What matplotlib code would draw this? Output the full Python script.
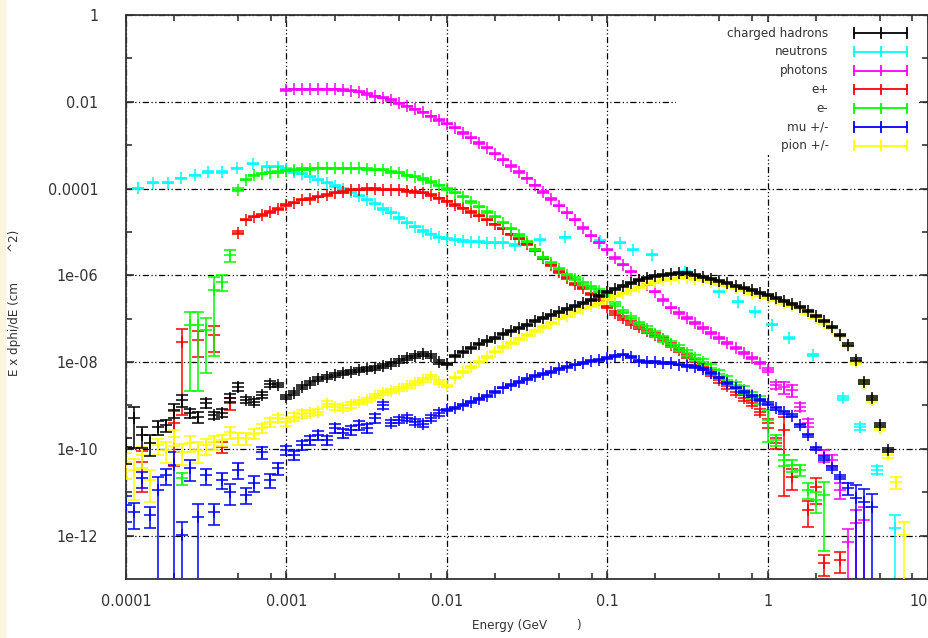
import numpy as np
import matplotlib
matplotlib.use('Agg')
import matplotlib.pyplot as plt
from matplotlib import font_manager
from matplotlib.patches import Rectangle
from matplotlib.ticker import FixedLocator, NullFormatter

nan = float('nan')

# log10(E / GeV) of the energy bins, 20 per decade
bin_loge = [
    -4.00, -3.95, -3.90, -3.85, -3.80, -3.75, -3.70, -3.65, -3.60, -3.55,
    -3.50, -3.45, -3.40, -3.35, -3.30, -3.25, -3.20, -3.15, -3.10, -3.05,
    -3.00, -2.95, -2.90, -2.85, -2.80, -2.75, -2.70, -2.65, -2.60, -2.55,
    -2.50, -2.45, -2.40, -2.35, -2.30, -2.25, -2.20, -2.15, -2.10, -2.05,
    -2.00, -1.95, -1.90, -1.85, -1.80, -1.75, -1.70, -1.65, -1.60, -1.55,
    -1.50, -1.45, -1.40, -1.35, -1.30, -1.25, -1.20, -1.15, -1.10, -1.05,
    -1.00, -0.95, -0.90, -0.85, -0.80, -0.75, -0.70, -0.65, -0.60, -0.55,
    -0.50, -0.45, -0.40, -0.35, -0.30, -0.25, -0.20, -0.15, -0.10, -0.05,
    0.00, 0.05, 0.10, 0.15, 0.20, 0.25, 0.30, 0.35, 0.40, 0.45,
    0.50, 0.55, 0.60, 0.65, 0.70, 0.75, 0.80, 0.85, 0.90, 0.95,
]

# charged hadrons, bins 0..95, log10(E dphi/dE) and relative error
hadron_logy = [
    -9.95, -9.29, -9.68, -9.86, -9.49, -9.45, -9.10, -8.87, -9.17, -9.26,
    -8.94, -9.22, -9.17, -8.82, -8.57, -8.87, -8.92, -8.76, -8.50, -8.53,
    -8.80, -8.71, -8.57, -8.48, -8.39, -8.34, -8.29, -8.25, -8.23, -8.18,
    -8.16, -8.13, -8.09, -8.04, -7.97, -7.90, -7.86, -7.81, -7.86, -8.00,
    -8.04, -7.86, -7.76, -7.67, -7.58, -7.51, -7.44, -7.35, -7.28, -7.21,
    -7.14, -7.05, -6.98, -6.91, -6.84, -6.77, -6.71, -6.64, -6.57, -6.47,
    -6.38, -6.31, -6.24, -6.18, -6.11, -6.06, -6.01, -5.99, -5.97, -5.94,
    -5.94, -5.99, -6.04, -6.08, -6.13, -6.18, -6.24, -6.29, -6.34, -6.40,
    -6.45, -6.52, -6.59, -6.66, -6.73, -6.82, -6.93, -7.05, -7.19, -7.37,
    -7.60, -7.95, -8.46, -8.82, -9.45, -10.02,
]
hadron_err = [
    0.6, 0.8, 0.5, 0.5, 0.35, 0.3, 0.35, 0.3, 0.25, 0.3,
    0.25, 0.2, 0.2, 0.2, 0.2, 0.15, 0.15, 0.15, 0.15, 0.12,
    0.1, 0.1, 0.1, 0.1, 0.1, 0.1, 0.1, 0.1, 0.1, 0.1,
    0.1, 0.1, 0.1, 0.1, 0.1, 0.1, 0.1, 0.1, 0.1, 0.1,
    0.05, 0.05, 0.05, 0.05, 0.05, 0.05, 0.05, 0.05, 0.05, 0.05,
    0.05, 0.05, 0.05, 0.05, 0.05, 0.05, 0.05, 0.05, 0.05, 0.05,
    0.05, 0.05, 0.05, 0.05, 0.05, 0.05, 0.05, 0.05, 0.05, 0.05,
    0.05, 0.05, 0.05, 0.05, 0.05, 0.05, 0.05, 0.05, 0.05, 0.05,
    0.05, 0.05, 0.05, 0.05, 0.05, 0.05, 0.05, 0.05, 0.05, 0.05,
    0.08, 0.08, 0.1, 0.1, 0.1, 0.12,
]

# neutrons: own energies (coarser bins at both ends)
neutron_loge = [
    -3.925, -3.83, -3.74, -3.66, -3.57, -3.49, -3.40, -3.31, -3.21, -3.12,
    -3.05, -3.00, -2.95, -2.90, -2.85, -2.80, -2.75, -2.70, -2.65, -2.60,
    -2.55, -2.50, -2.45, -2.40, -2.35, -2.30, -2.25, -2.20, -2.15, -2.10,
    -2.05, -2.00, -1.95, -1.90, -1.85, -1.80, -1.75, -1.70, -1.65,
    -1.575, -1.42, -1.26, -1.045, -0.92, -0.84, -0.72, -0.515, -0.30, -0.185,
    -0.08, 0.03, 0.135, 0.28, 0.47, 0.575, 0.68, 0.795,
]
neutron_logy = [
    -3.99, -3.87, -3.87, -3.76, -3.69, -3.62, -3.62, -3.53, -3.43, -3.50,
    -3.50, -3.55, -3.62, -3.66, -3.73, -3.80, -3.87, -3.94, -4.01, -4.08,
    -4.17, -4.26, -4.35, -4.47, -4.56, -4.68, -4.79, -4.88, -4.98, -5.05,
    -5.12, -5.16, -5.18, -5.21, -5.23, -5.23, -5.25, -5.25, -5.25,
    -5.30, -5.18, -5.12, -5.21, -5.25, -5.41, -5.53, -5.92, -6.38, -6.61,
    -6.84, -7.14, -7.44, -7.83, -8.82, -9.49, -10.48, -11.82,
]
neutron_err = [
    0.03, 0.03, 0.03, 0.03, 0.03, 0.03, 0.03, 0.03, 0.03, 0.03,
    0.03, 0.03, 0.03, 0.03, 0.03, 0.03, 0.03, 0.03, 0.03, 0.03,
    0.03, 0.03, 0.03, 0.03, 0.03, 0.03, 0.03, 0.03, 0.03, 0.03,
    0.03, 0.03, 0.03, 0.03, 0.03, 0.03, 0.03, 0.03, 0.03,
    0.03, 0.03, 0.03, 0.03, 0.03, 0.03, 0.03, 0.03, 0.03, 0.03,
    0.03, 0.03, 0.05, 0.05, 0.1, 0.15, 0.2, 0.999,
]

# photons, bins 20..92
photon_logy = [
    -1.73, -1.71, -1.71, -1.71, -1.71, -1.71, -1.71, -1.73, -1.75, -1.77,
    -1.82, -1.87, -1.91, -1.96, -2.03, -2.10, -2.17, -2.24, -2.33, -2.42,
    -2.51, -2.60, -2.72, -2.83, -2.95, -3.06, -3.20, -3.34, -3.48, -3.62,
    -3.76, -3.92, -4.08, -4.24, -4.40, -4.56, -4.72, -4.91, -5.09, -5.25,
    -5.41, -5.60, -5.76, -5.92, -6.11, -6.22, -6.38, -6.57, -6.75, -6.87,
    -6.98, -7.10, -7.21, -7.33, -7.44, -7.56, -7.67, -7.79, -7.90, -8.02,
    -8.18, -8.53, -8.57, -8.64, -9.03, -9.40, nan, -10.14, -10.25, -10.94,
    -12.15, -11.71, -11.64,
]
photon_err = [
    0.03, 0.03, 0.03, 0.03, 0.03, 0.03, 0.03, 0.03, 0.03, 0.03,
    0.03, 0.03, 0.03, 0.03, 0.03, 0.03, 0.03, 0.03, 0.03, 0.03,
    0.03, 0.03, 0.03, 0.03, 0.03, 0.03, 0.03, 0.03, 0.03, 0.03,
    0.03, 0.03, 0.03, 0.03, 0.03, 0.03, 0.03, 0.03, 0.03, 0.03,
    0.03, 0.03, 0.03, 0.03, 0.03, 0.03, 0.03, 0.03, 0.03, 0.03,
    0.05, 0.05, 0.05, 0.05, 0.05, 0.05, 0.05, 0.05, 0.05, 0.05,
    0.1, 0.2, 0.3, 0.3, 0.2, 0.2, 0.0, 0.3, 0.3, 0.4,
    0.999, 0.999, 0.999,
]

# e+, bins 2..89
positron_logy = [
    -10.30, nan, nan, nan, -9.40, -7.53, nan, -7.49,
    nan, -7.37, -9.95, -8.94, -5.02, -4.72, -4.65, -4.61, -4.54, -4.47,
    -4.38, -4.33, -4.26, -4.24, -4.19, -4.15, -4.10, -4.08, -4.03, -4.03,
    -4.01, -4.01, -4.03, -4.03, -4.03, -4.06, -4.08, -4.10, -4.15, -4.22,
    -4.29, -4.38, -4.45, -4.54, -4.63, -4.72, -4.82, -4.93, -5.05, -5.16,
    -5.28, -5.41, -5.60, -5.76, -5.92, -6.06, -6.20, -6.29, -6.43, -6.57,
    -6.73, -6.87, -6.98, -7.10, -7.19, -7.28, -7.37, -7.47, -7.60, -7.72,
    -7.86, -8.00, -8.11, -8.25, -8.41, -8.55, -8.69, -8.82, -8.94, -9.15,
    -9.40, -9.86, -9.56, -10.64, nan, -11.41, -10.87, -12.63, nan, -12.56,
]
positron_err = [
    0.8, 0.0, 0.0, 0.0, 0.9, 0.98, 0.0, 0.6,
    0.0, 0.6, 0.3, 0.3, 0.08, 0.03, 0.03, 0.03, 0.03, 0.03,
    0.03, 0.03, 0.03, 0.03, 0.03, 0.03, 0.03, 0.03, 0.03, 0.03,
    0.03, 0.03, 0.03, 0.03, 0.03, 0.03, 0.03, 0.03, 0.03, 0.03,
    0.03, 0.03, 0.03, 0.03, 0.03, 0.03, 0.03, 0.03, 0.03, 0.03,
    0.03, 0.05, 0.05, 0.05, 0.05, 0.05, 0.05, 0.05, 0.05, 0.05,
    0.05, 0.1, 0.1, 0.1, 0.1, 0.1, 0.1, 0.1, 0.1, 0.1,
    0.1, 0.15, 0.15, 0.15, 0.15, 0.15, 0.15, 0.15, 0.15, 0.15,
    0.25, 0.3, 0.97, 0.5, 0.0, 0.6, 0.6, 0.5, 0.0, 0.5,
]

# e-, bins 7..87
electron_logy = [
    -10.67, -7.14, -7.14, -7.26, -6.34, -6.15, -5.53, -4.03, -3.80, -3.69,
    -3.66, -3.64, -3.62, -3.59, -3.57, -3.55, -3.55, -3.53, -3.53, -3.53,
    -3.53, -3.53, -3.53, -3.55, -3.57, -3.57, -3.62, -3.64, -3.69, -3.73,
    -3.78, -3.85, -3.92, -4.01, -4.10, -4.19, -4.31, -4.42, -4.54, -4.65,
    -4.79, -4.93, -5.07, -5.23, -5.41, -5.58, -5.71, -5.85, -5.99, -6.08,
    -6.18, -6.27, -6.36, -6.47, -6.66, -6.84, -6.98, -7.10, -7.23, -7.35,
    -7.47, -7.58, -7.67, -7.79, -7.90, -8.00, -8.13, -8.27, -8.41, -8.53,
    -8.64, -8.76, -8.87, -9.33, -9.79, -10.25, -10.37, -10.48, -10.94, -11.18,
    -11.06,
]
electron_err = [
    0.3, 0.97, 0.97, 0.9, 0.97, 0.4, 0.3, 0.08, 0.03, 0.03,
    0.03, 0.03, 0.03, 0.03, 0.03, 0.03, 0.03, 0.03, 0.03, 0.03,
    0.03, 0.03, 0.03, 0.03, 0.03, 0.03, 0.03, 0.03, 0.03, 0.03,
    0.03, 0.03, 0.03, 0.03, 0.03, 0.03, 0.03, 0.03, 0.03, 0.03,
    0.03, 0.03, 0.03, 0.03, 0.03, 0.03, 0.03, 0.03, 0.03, 0.08,
    0.08, 0.08, 0.08, 0.08, 0.08, 0.08, 0.08, 0.08, 0.15, 0.15,
    0.15, 0.15, 0.15, 0.15, 0.15, 0.15, 0.2, 0.2, 0.2, 0.2,
    0.2, 0.2, 0.2, 0.7, 0.3, 0.3, 0.3, 0.3, 0.4, 0.5,
    0.95,
]

# mu +/-, bins 0..93
muon_logy = [
    -11.29, -11.45, -10.67, -11.52, -10.94, -10.60, -10.37, -11.98, -10.44, -11.57,
    -10.60, -11.45, -10.71, -10.99, -10.48, -11.06, -10.78, -10.07, -10.71, -10.44,
    -10.02, -10.14, -9.91, -9.79, -9.68, -9.79, -9.52, -9.63, -9.56, -9.45,
    -9.52, -9.29, -8.99, -9.40, -9.33, -9.29, -9.38, -9.42, -9.29, -9.17,
    -9.10, -9.06, -8.99, -8.92, -8.85, -8.78, -8.69, -8.59, -8.53, -8.46,
    -8.39, -8.32, -8.27, -8.23, -8.16, -8.11, -8.06, -8.02, -7.97, -7.95,
    -7.90, -7.86, -7.83, -7.88, -7.97, -8.00, -8.00, -8.02, -8.02, -8.06,
    -8.09, -8.11, -8.16, -8.25, -8.36, -8.48, -8.59, -8.69, -8.78, -8.87,
    -8.96, -9.06, -9.15, -9.24, -9.45, -9.68, -9.98, -10.21, -10.44, -10.64,
    -10.90, -11.13, -11.22, -11.34,
]
muon_err = [
    0.6, 0.6, 0.4, 0.5, 0.999, 0.4, 0.999, 0.999, 0.5, 0.999,
    0.4, 0.5, 0.4, 0.5, 0.4, 0.4, 0.4, 0.3, 0.35, 0.3,
    0.25, 0.25, 0.25, 0.25, 0.25, 0.25, 0.25, 0.25, 0.25, 0.25,
    0.25, 0.25, 0.2, 0.15, 0.15, 0.15, 0.15, 0.15, 0.15, 0.15,
    0.04, 0.04, 0.04, 0.04, 0.04, 0.04, 0.04, 0.04, 0.04, 0.04,
    0.04, 0.04, 0.04, 0.04, 0.04, 0.04, 0.04, 0.04, 0.04, 0.04,
    0.04, 0.04, 0.04, 0.04, 0.04, 0.04, 0.04, 0.04, 0.04, 0.04,
    0.04, 0.04, 0.04, 0.04, 0.04, 0.04, 0.04, 0.04, 0.04, 0.04,
    0.08, 0.08, 0.08, 0.08, 0.08, 0.08, 0.08, 0.1, 0.1, 0.1,
    0.3, 0.999, 0.999, 0.999,
]

# pion +/-, bins 0..97
pion_logy = [
    -10.30, -10.48, -10.14, -10.71, -9.91, -10.02, -9.72, -10.07, -9.86, -10.02,
    -9.91, -9.84, -9.79, -9.61, -9.75, -9.75, -9.65, -9.52, -9.38, -9.29,
    -9.38, -9.26, -9.19, -9.17, -9.15, -8.96, -9.03, -9.06, -8.99, -8.92,
    -8.87, -8.78, -8.71, -8.66, -8.62, -8.55, -8.48, -8.41, -8.34, -8.46,
    -8.55, -8.36, -8.23, -8.11, -8.00, -7.88, -7.76, -7.65, -7.56, -7.47,
    -7.37, -7.28, -7.19, -7.10, -7.00, -6.94, -6.84, -6.77, -6.71, -6.64,
    -6.54, -6.47, -6.41, -6.34, -6.27, -6.20, -6.15, -6.11, -6.08, -6.06,
    -6.06, -6.08, -6.11, -6.15, -6.20, -6.24, -6.29, -6.34, -6.41, -6.47,
    -6.52, -6.57, -6.64, -6.71, -6.77, -6.87, -6.98, -7.10, -7.23, -7.40,
    -7.63, -8.00, -8.48, -8.87, -9.52, -10.14, -10.76, -11.98,
]
pion_err = [
    0.6, 0.8, 0.5, 0.7, 0.4, 0.5, 0.4, 0.5, 0.4, 0.5,
    0.4, 0.35, 0.3, 0.3, 0.3, 0.3, 0.25, 0.25, 0.25, 0.2,
    0.2, 0.2, 0.2, 0.15, 0.15, 0.15, 0.15, 0.15, 0.15, 0.12,
    0.1, 0.1, 0.1, 0.1, 0.1, 0.1, 0.1, 0.1, 0.1, 0.1,
    0.04, 0.04, 0.04, 0.04, 0.04, 0.04, 0.04, 0.04, 0.04, 0.04,
    0.04, 0.04, 0.04, 0.04, 0.04, 0.04, 0.04, 0.04, 0.04, 0.04,
    0.04, 0.04, 0.04, 0.04, 0.04, 0.04, 0.04, 0.04, 0.04, 0.04,
    0.04, 0.04, 0.04, 0.04, 0.04, 0.04, 0.04, 0.04, 0.04, 0.04,
    0.04, 0.04, 0.04, 0.04, 0.04, 0.04, 0.04, 0.04, 0.04, 0.04,
    0.05, 0.08, 0.08, 0.1, 0.1, 0.15, 0.3, 0.999,
]

labels = ['charged hadrons', 'neutrons', 'photons', 'e+', 'e-', 'mu +/-', 'pion +/-']
colors = ['#000000', '#00ffff', '#ff00ff', '#ff0000', '#00ff00', '#0000ff', '#ffff00']

x_ticks = [1e-4, 1e-3, 1e-2, 1e-1, 1, 10]
x_tick_labels = ['0.0001', '0.001', '0.01', '0.1', '1', '10']
y_ticks = [1, 1e-2, 1e-4, 1e-6, 1e-8, 1e-10, 1e-12]
y_tick_labels = ['1', '0.01', '0.0001', '1e-06', '1e-08', '1e-10', '1e-12']

# narrow face if one is installed, DejaVu otherwise
narrow = None
for f in font_manager.fontManager.ttflist:
    if f.name == 'DejaVu Sans' and f.stretch == 'condensed' and f.style == 'normal' and f.weight == 400:
        narrow = f.fname
        break
if narrow is None:
    for f in font_manager.fontManager.ttflist:
        if 'Narrow' in f.name and f.style == 'normal':
            narrow = f.fname
            break
font = font_manager.FontProperties(fname=narrow) if narrow else font_manager.FontProperties(family='DejaVu Sans')
text_color = '#333333'

fig = plt.figure(figsize=(9.29, 6.38), dpi=100)
fig.patches.append(Rectangle((0, 0), 5 / 929, 1, transform=fig.transFigure,
                             color='#fdf4df', zorder=0))
ax = fig.add_axes([126 / 929, 1 - 579 / 638, 802 / 929, 564 / 638])

data = [
    (bin_loge[0:96], hadron_logy, hadron_err),
    (neutron_loge, neutron_logy, neutron_err),
    (bin_loge[20:93], photon_logy, photon_err),
    (bin_loge[2:90], positron_logy, positron_err),
    (bin_loge[7:88], electron_logy, electron_err),
    (bin_loge[0:94], muon_logy, muon_err),
    (bin_loge[0:98], pion_logy, pion_err),
]
zorders = [3.5, 2.1, 2.2, 2.3, 2.4, 2.5, 2.6]

for (loge, logy, err), col, z in zip(data, colors, zorders):
    e = 10 ** np.array(loge)
    y = 10 ** np.array(logy)
    rel = np.array(err)
    ok = ~np.isnan(y)
    ax.errorbar(e[ok], y[ok], yerr=y[ok] * rel[ok], fmt='+', color=col,
                ms=8, mew=1.1, elinewidth=1.1, capsize=4, capthick=1.1,
                zorder=z)

ax.set_xscale('log')
ax.set_yscale('log')
ax.set_xlim(1e-4, 10)
ax.set_ylim(1e-13, 1)

ax.xaxis.set_major_locator(FixedLocator(x_ticks))
ax.set_xticklabels(x_tick_labels)
ax.xaxis.set_minor_locator(FixedLocator([k * 10.0 ** d for d in range(-4, 1) for k in (2, 5, 8)]))
ax.xaxis.set_minor_formatter(NullFormatter())
ax.yaxis.set_major_locator(FixedLocator(y_ticks))
ax.set_yticklabels(y_tick_labels)
ax.yaxis.set_minor_locator(FixedLocator([10.0 ** d for d in range(-11, 0, 2)]))
ax.yaxis.set_minor_formatter(NullFormatter())

ax.tick_params(which='both', direction='in', top=True, right=True,
               color=text_color, width=1.2, labelcolor=text_color)
ax.tick_params(which='major', length=6)
ax.tick_params(which='minor', length=4)
ax.tick_params(axis='y', pad=20)
ax.tick_params(axis='x', pad=11)
for lab in ax.get_xticklabels() + ax.get_yticklabels():
    lab.set_fontproperties(font)
    lab.set_fontsize(11.5)
ax.get_xticklabels()[-1].set_horizontalalignment('right')
for s in ax.spines.values():
    s.set_color(text_color)
    s.set_linewidth(1.3)

ax.set_axisbelow(True)
ax.grid(True, which='major', color='black', lw=0.9, ls=(0, (5, 2, 1, 2, 1, 2)))

ax.set_xlabel('Energy (GeV        )', fontproperties=font, fontsize=9.5, color=text_color)
ax.xaxis.set_label_coords(0.5, -0.071)
ax.set_ylabel('E x dphi/dE (cm        ^2)', fontproperties=font, fontsize=9.5, color=text_color)
ax.yaxis.set_label_coords(-0.131, 0.49)

# key box in the top right corner (opaque, like gnuplot)
ax.add_patch(Rectangle((0.686, 0.752), 0.302, 0.236, transform=ax.transAxes,
                       facecolor='white', edgecolor='none', zorder=1))
for i, (lab, col) in enumerate(zip(labels, colors)):
    yk = (579 - (33 + 18.8 * i)) / 564
    ax.text(0.876, yk, lab, transform=ax.transAxes, ha='right', va='center',
            fontproperties=font, fontsize=9.5, color=text_color, zorder=5)
    ax.plot([0.908, 0.974], [yk, yk], color=col, lw=1.3, transform=ax.transAxes, zorder=5)
    for xt in (0.908, 0.941, 0.974):
        ax.plot([xt, xt], [yk - 0.008, yk + 0.008], color=col, lw=1.3,
                transform=ax.transAxes, zorder=5)

fig.savefig('out.png', dpi=100)
